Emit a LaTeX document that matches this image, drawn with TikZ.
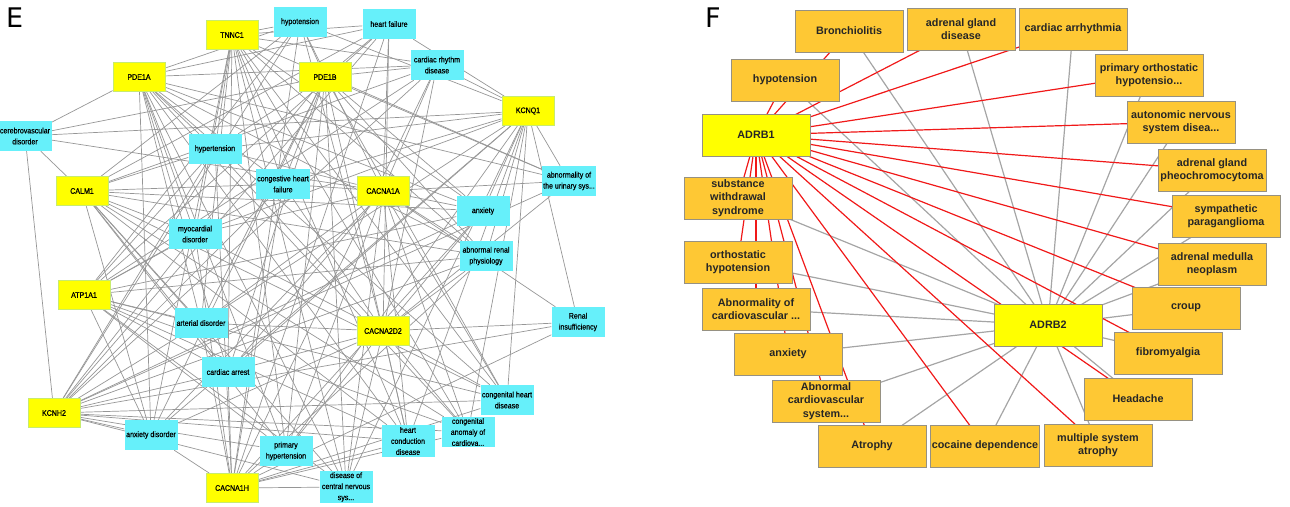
\documentclass[tikz,border=0pt]{standalone}
\usepackage{fontspec}
\setmainfont{Liberation Sans}
\newfontfamily\efont[FakeStretch=0.88,FakeBold=0.6]{Liberation Sans}
\newfontfamily\ffont{Liberation Sans}
\newfontfamily\labfont{DejaVu Sans}
\usetikzlibrary{backgrounds}
\definecolor{ecyan}{RGB}{102,240,250}
\definecolor{eyel}{RGB}{255,255,0}
\definecolor{eyelb}{RGB}{200,235,110}
\definecolor{forange}{RGB}{254,200,52}
\definecolor{fborder}{RGB}{150,145,130}
\definecolor{fred}{RGB}{240,25,25}
\definecolor{fgray}{RGB}{165,165,165}
\definecolor{egray}{RGB}{150,150,150}
\tikzset{
  genE/.style={fill=eyel, draw=eyelb, line width=0.8pt, minimum width=52pt, minimum height=29pt, inner sep=1pt, align=center, font=\efont\fontsize{8}{11}\selectfont},
  disE/.style={fill=ecyan, draw=none, minimum width=53pt, minimum height=30pt, inner sep=1pt, align=center, font=\efont\fontsize{8}{11}\selectfont},
  eedge/.style={draw=egray, line width=0.7pt},
  disF/.style={fill=forange, draw=fborder, line width=0.9pt, minimum width=108pt, minimum height=42pt, inner sep=1pt, align=center, text=black!85, font=\ffont\bfseries\fontsize{10.8}{13.5}\selectfont},
  genF/.style={disF, fill=eyel},
  redF/.style={draw=fred, line width=1.2pt},
  grayF/.style={draw=fgray, line width=1.2pt},
  panel/.style={font=\labfont\fontsize{27}{27}\selectfont, inner sep=0pt, anchor=north west}
}
\begin{document}
\begin{tikzpicture}[x=1pt,y=-1pt]
\useasboundingbox (0,0) rectangle (1290,506);
% ---------------- Panel E ----------------
\node[panel] (labE) at (6,8) {E};
\node[genE] (tnnc) at (232,35) {TNNC1};
\node[genE] (pdea) at (139,77) {PDE1A};
\node[genE] (pdeb) at (325,77) {PDE1B};
\node[genE] (kcnq) at (528,111) {KCNQ1};
\node[genE] (calm) at (82,191) {CALM1};
\node[genE] (cacnaa) at (383,191) {CACNA1A};
\node[genE] (atp) at (84,295) {ATP1A1};
\node[genE] (cacnad) at (383,331) {CACNA2D2};
\node[genE] (kcnh) at (54,413) {KCNH2};
\node[genE] (cacnah) at (232,488) {CACNA1H};
\node[disE] (hypo) at (300,22) {hypotension};
\node[disE] (hf) at (389,24) {heart failure};
\node[disE] (crd) at (437,65) {cardiac rhythm\\disease};
\node[disE] (cvd) at (25,136) {cerebrovascular\\disorder};
\node[disE] (htn) at (215,149) {hypertension};
\node[disE] (chf) at (283,184) {congestive heart\\failure};
\node[disE] (urin) at (569,181) {abnormality of\\the urinary sys...};
\node[disE] (anx) at (483,211) {anxiety};
\node[disE] (myo) at (195,234) {myocardial\\disorder};
\node[disE] (arp) at (486,256) {abnormal renal\\physiology};
\node[disE] (art) at (201,323) {arterial disorder};
\node[disE] (ri) at (578,322) {Renal\\insufficiency};
\node[disE] (ca) at (228,372) {cardiac arrest};
\node[disE] (chd) at (507,400) {congenital heart\\disease};
\node[disE] (anxd) at (151,435) {anxiety disorder};
\node[disE, minimum height=32pt] (hcd) at (408,441) {heart\\conduction\\disease};
\node[disE] (cac) at (468,432) {congenital\\anomaly of\\cardiova...};
\node[disE] (phtn) at (286,451) {primary\\hypertension};
\node[disE, minimum height=31pt] (cns) at (346,487) {disease of\\central nervous\\sys...};
\begin{scope}[on background layer]
\foreach \g/\ds in {
 tnnc/{hypo,hf,crd,htn,chf,anx,myo,arp,art,ca,chd,anxd,hcd,cac,phtn,cns,urin},
 pdea/{hypo,hf,crd,cvd,htn,chf,anx,myo,arp,art,ca,chd,anxd,hcd,cac,phtn,cns,urin},
 pdeb/{hypo,hf,crd,cvd,htn,chf,urin,anx,myo,arp,art,ca,chd,anxd,hcd,phtn,cns},
 kcnq/{hypo,hf,crd,cvd,htn,chf,urin,anx,myo,arp,art,ri,ca,chd,anxd,hcd,cac,phtn,cns},
 calm/{cvd,hypo,hf,crd,htn,chf,anx,myo,arp,art,ca,chd,anxd,hcd,cac,phtn,cns},
 cacnaa/{cvd,hypo,hf,crd,htn,chf,urin,anx,myo,arp,art,ri,ca,chd,anxd,hcd,cac,phtn,cns},
 atp/{hypo,hf,crd,htn,chf,anx,myo,arp,art,ca,chd,anxd,hcd,cac,phtn,cns},
 cacnad/{hypo,hf,crd,htn,chf,urin,anx,myo,arp,art,ri,ca,chd,anxd,hcd,cac,phtn,cns},
 kcnh/{cvd,hypo,hf,crd,htn,chf,urin,anx,myo,arp,art,ri,ca,chd,anxd,hcd,cac,phtn,cns},
 cacnah/{hypo,hf,crd,htn,chf,anx,myo,arp,art,ri,ca,chd,anxd,hcd,cac,phtn,cns}}
{ \foreach \d in \ds { \draw[eedge] (\g) -- (\d); } }
\end{scope}
% ---------------- Panel F ----------------
\node[panel] (labF) at (705,8) {F};
\node[disF] (bron) at (849,31) {Bronchiolitis};
\node[disF] (agd) at (961,29) {adrenal gland\\disease};
\node[disF] (carr) at (1073,29) {cardiac arrhythmia};
\node[disF] (fhypo) at (785,80) {hypotension};
\node[disF] (poh) at (1149,75) {primary orthostatic\\hypotensio...};
\node[genF] (adrb1) at (756,135) {ADRB1};
\node[disF] (ans) at (1181,122) {autonomic nervous\\system disea...};
\node[disF] (pheo) at (1212,170) {adrenal gland\\pheochromocytoma};
\node[disF] (sws) at (738,198) {substance\\withdrawal\\syndrome};
\node[disF] (symp) at (1226,216) {sympathetic\\paraganglioma};
\node[disF] (oh) at (738,262) {orthostatic\\hypotension};
\node[disF] (amn) at (1212,264) {adrenal medulla\\neoplasm};
\node[disF] (aoc) at (756,309) {Abnormality of\\cardiovascular ...};
\node[disF] (croup) at (1186,308) {croup};
\node[genF] (adrb2) at (1048,325) {ADRB2};
\node[disF] (fibro) at (1168,353) {fibromyalgia};
\node[disF] (fanx) at (788,354) {anxiety};
\node[disF] (acs) at (826,401) {Abnormal\\cardiovascular\\system...};
\node[disF] (head) at (1138,399) {Headache};
\node[disF] (atro) at (872,446) {Atrophy};
\node[disF] (coc) at (985,446) {cocaine dependence};
\node[disF] (msa) at (1098,445) {multiple system\\atrophy};
\begin{scope}[on background layer]
\foreach \d in {bron,agd,carr,fhypo,poh,ans,pheo,sws,symp,oh,amn,aoc,croup,fibro,fanx,acs,head,atro,coc,msa}
  { \draw[grayF] (adrb2.center) -- (\d.center); }
\foreach \d in {bron,agd,carr,fhypo,poh,ans,pheo,sws,symp,oh,amn,aoc,croup,fibro,fanx,acs,head,atro,coc,msa}
  { \draw[redF] (adrb1.center) -- (\d.center); }
\end{scope}
\end{tikzpicture}
\end{document}
